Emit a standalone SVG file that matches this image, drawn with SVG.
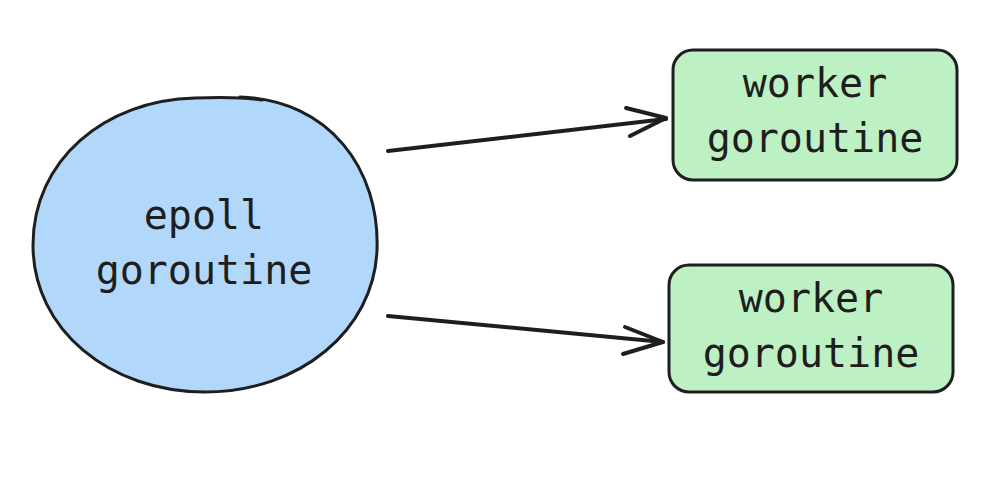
<svg xmlns="http://www.w3.org/2000/svg" width="1002" height="492" viewBox="0 0 1002 492">
  <style>
    .lbl { font-family: "DejaVu Sans Mono", "Liberation Mono", monospace; font-size: 40px; fill: #1e1e1e; text-anchor: middle; }
    .edge { fill: none; stroke: #1e1e1e; stroke-width: 4; stroke-linecap: round; stroke-linejoin: round; }
    .box { fill: #bdf1c3; stroke: #1e1e1e; stroke-width: 3; }
  </style>
  <rect width="1002" height="492" fill="#ffffff"/>

  <g id="epoll">
    <!-- fill follows the hand-drawn outline -->
    <path d="M 240 97 C 330 100 380 170 377 250 C 374 330 300 392 205 392 C 110 392 33 330 33 245 C 33 160 105 100 195 98 C 215 97 230 97 240 97 Z" fill="#b1d8fb" stroke="none"/>
    <path d="M 240 97 C 330 100 380 170 377 250 C 374 330 300 392 205 392 C 110 392 33 330 33 245 C 33 160 105 100 195 98 C 225 97 250 98 262 100" fill="none" stroke="#1e1e1e" stroke-width="3" stroke-linecap="round"/>
    <text class="lbl" x="204" y="229">epoll</text>
    <text class="lbl" x="204" y="284">goroutine</text>
  </g>

  <g id="worker1">
    <rect class="box" x="673" y="50" width="284" height="130" rx="20"/>
    <text class="lbl" x="815" y="97">worker</text>
    <text class="lbl" x="815" y="152">goroutine</text>
  </g>

  <g id="worker2">
    <rect class="box" x="669" y="265" width="284" height="127" rx="20"/>
    <text class="lbl" x="811" y="312">worker</text>
    <text class="lbl" x="811" y="367">goroutine</text>
  </g>

  <g id="connectors">
    <path class="edge" d="M 388 151 L 666 119"/>
    <path class="edge" d="M 626 108 L 666 118 L 630 136"/>
    <path class="edge" d="M 388 316 L 663 342"/>
    <path class="edge" d="M 625 327 L 663 342 L 623 354"/>
  </g>
</svg>
